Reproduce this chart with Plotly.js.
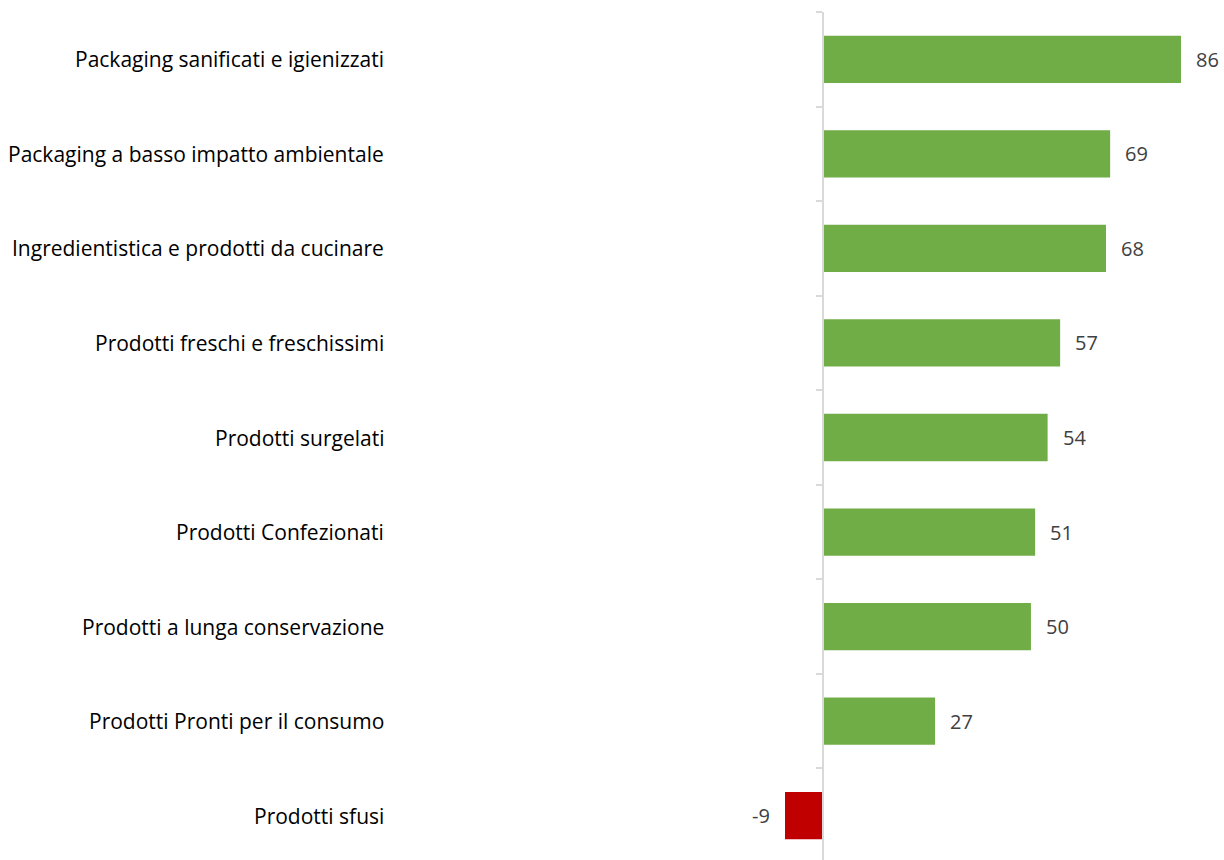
<!DOCTYPE html>
<html>
<head>
<meta charset="utf-8">
<script src="https://cdn.plot.ly/plotly-3.0.1.min.js"></script>
<style>
html,body{margin:0;padding:0;background:#fff;overflow:hidden;}
#chart{width:1224px;height:863px;}
</style>
</head>
<body>
<div id="chart"></div>
<script>
const categories = [
  "Packaging sanificati e igienizzati",
  "Packaging a basso impatto ambientale",
  "Ingredientistica e prodotti da cucinare",
  "Prodotti freschi e freschissimi",
  "Prodotti surgelati",
  "Prodotti Confezionati",
  "Prodotti a lunga conservazione",
  "Prodotti Pronti per il consumo",
  "Prodotti sfusi"
];
const values = [86, 69, 68, 57, 54, 51, 50, 27, -9];

const FONT = "'Open Sans', sans-serif";
const colors = values.map(v => v < 0 ? "#C00000" : "#70AD47");

const trace = {
  type: "bar",
  orientation: "h",
  y: categories,
  x: values,
  marker: {color: colors},
  width: 0.5,
  hoverinfo: "x+y"
};

const annotations = [];
categories.forEach((c, i) => {
  annotations.push({
    xref: "paper", yref: "y", x: 386/1224, y: c,
    xanchor: "right", yanchor: "middle",
    text: c, showarrow: false,
    font: {family: FONT, size: 21, color: "#000000"}
  });
  const v = values[i];
  annotations.push({
    xref: "x", yref: "y", x: v, y: c,
    xanchor: v < 0 ? "right" : "left", yanchor: "middle",
    xshift: v < 0 ? -13 : 13,
    text: String(v), showarrow: false,
    font: {family: FONT, size: 20, color: "#404040"}
  });
});

const layout = {
  width: 1224, height: 863,
  margin: {l: 0, r: 0, t: 12, b: 0, pad: 0},
  paper_bgcolor: "#ffffff", plot_bgcolor: "#ffffff",
  showlegend: false,
  xaxis: {
    range: [-197.31, 96.31],
    showgrid: false, zeroline: false, showline: false,
    showticklabels: false, ticks: "", fixedrange: true
  },
  yaxis: {
    type: "category",
    autorange: "reversed",
    anchor: "free", position: 822.5/1224,
    showline: true, linecolor: "#D9D9D9", linewidth: 2,
    ticks: "outside", tickson: "boundaries", ticklen: 6,
    tickcolor: "#D9D9D9", tickwidth: 2,
    showticklabels: false, showgrid: false, zeroline: false,
    fixedrange: true
  },
  annotations: annotations
};

Plotly.newPlot("chart", [trace], layout, {displayModeBar: false, staticPlot: true});
</script>
</body>
</html>
